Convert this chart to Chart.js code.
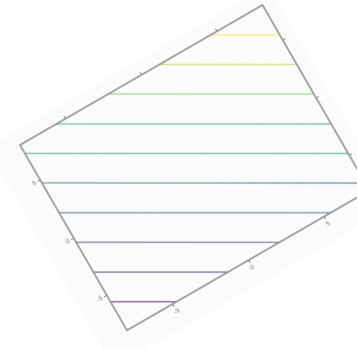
<!DOCTYPE html>
<html>
<head>
<meta charset="utf-8">
<script src="https://cdn.jsdelivr.net/npm/chart.js@4.4.0/dist/chart.umd.min.js"></script>
<style>
  html, body { margin: 0; padding: 0; background: #ffffff; overflow: hidden; }
  #wrap { position: relative; width: 357px; height: 349px; }
  #contourChart { position: absolute; filter: blur(0.35px); }
</style>
</head>
<body>
<div id="wrap"><canvas id="contourChart" width="324" height="254"></canvas></div>
<script>
// contour lines, bottom (lowest level) to top
const startX = [-8, -8, -8, -8, -8, -8, -5.6, -2.17, 1.2, 4.57];
const startY = [-5.53, -2.97, -0.40, 2.15, 4.72, 7.27, 8, 8, 8, 8];
const endX = [-4.73, -1.34, 2.06, 5.44, 8, 8, 8, 8, 8, 8];
const endY = [-8, -8, -8, -8, -7.37, -4.82, -2.27, 0.32, 2.86, 5.41];
const levelColors = ['#440154', '#482878', '#3e4989', '#31688e', '#26828e',
                     '#1f9e89', '#35b779', '#6ece58', '#b5de2b', '#fde725'];

const xTicks = [-5, 0, 5];
const yTicks = [-5, 0, 5];
const axisMin = -8;
const axisMax = 8;

const areaWidth = 280;
const areaHeight = 214;

function hexAlpha(hex, a) {
    const n = parseInt(hex.slice(1), 16);
    return `rgba(${(n >> 16) & 255}, ${(n >> 8) & 255}, ${n & 255}, ${a})`;
}

const datasets = startX.map((sx, i) => ({
    data: [{ x: sx, y: startY[i] }, { x: endX[i], y: endY[i] }],
    showLine: true,
    borderColor: hexAlpha(levelColors[i], 0.7),
    borderWidth: 1.3,
    pointRadius: 0
}));

function fixedTicks(values) {
    return function (scale) {
        scale.ticks = values.map(v => ({ value: v }));
    };
}

function axis(position, values, size, showLabels) {
    return {
        type: 'linear',
        position: position,
        min: axisMin,
        max: axisMax,
        afterBuildTicks: fixedTicks(values),
        afterFit(scale) {
            if (position == 'left' || position == 'right') scale.width = size;
            else scale.height = size;
        },
        ticks: {
            display: showLabels,
            color: '#777777',
            padding: 2,
            font: { family: 'DejaVu Sans', size: 6 },
            maxRotation: 0,
            callback(v) { return String(v); }
        },
        grid: {
            display: true,
            drawOnChartArea: false,
            drawTicks: true,
            tickLength: 3,
            color: '#888888',
            lineWidth: 1
        },
        border: { display: false }
    };
}

// box around the plotting area
const frame = {
    id: 'frame',
    beforeDraw(chart) {
        const ctx = chart.ctx;
        ctx.save();
        ctx.fillStyle = '#fbfbfb';
        ctx.fillRect(0, 0, chart.width, chart.height);
        ctx.restore();
    },
    afterDraw(chart) {
        const a = chart.chartArea;
        const ctx = chart.ctx;
        ctx.save();
        ctx.strokeStyle = '#8a8a8a';
        ctx.lineWidth = 1.5;
        ctx.strokeRect(a.left, a.top, a.right - a.left, a.bottom - a.top);
        ctx.restore();
    }
};

const canvas = document.getElementById('contourChart');
const chart = new Chart(canvas.getContext('2d'), {
    type: 'scatter',
    data: { datasets: datasets },
    plugins: [frame],
    options: {
        responsive: false,
        maintainAspectRatio: false,
        animation: false,
        layout: { padding: 10 },
        scales: {
            x: axis('bottom', xTicks, 16, true),
            y: axis('left', yTicks, 20, true),
            x2: axis('top', xTicks, 4, false),
            y2: axis('right', yTicks, 4, false)
        },
        plugins: {
            legend: { display: false },
            tooltip: { enabled: false }
        }
    }
});

// make sure the plotting area is exactly areaWidth x areaHeight
const a0 = chart.chartArea;
if (a0.right - a0.left != areaWidth || a0.bottom - a0.top != areaHeight) {
    chart.resize(chart.width + areaWidth - (a0.right - a0.left),
                 chart.height + areaHeight - (a0.bottom - a0.top));
}

// tilt the whole plot so that the area's top-left corner sits at (19.5, 145)
const area = chart.chartArea;
canvas.style.left = (19.5 - area.left) + 'px';
canvas.style.top = (145 - area.top) + 'px';
canvas.style.transformOrigin = area.left + 'px ' + area.top + 'px';
canvas.style.transform = 'rotate(-30deg)';
</script>
</body>
</html>
